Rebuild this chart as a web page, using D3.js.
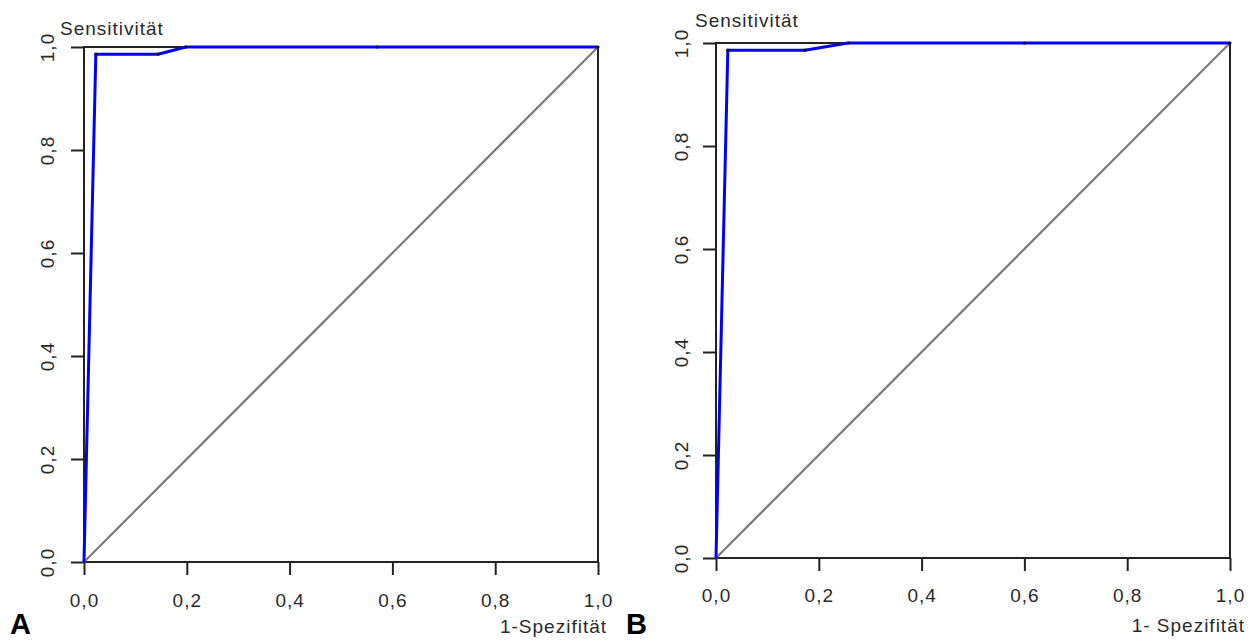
<!DOCTYPE html>
<html>
<head>
  <meta charset="utf-8">
  <title>roc-curves</title>
  <style>
    * { margin: 0; padding: 0; }
    body { background: #fff; }
    svg text {
      font-family: "Liberation Sans", Arial, sans-serif;
      fill: #2a2a2a;
    }
    .tick-label, .axis-title { font-size: 19px; letter-spacing: 1px; }
    .panel-label { font-size: 29px; font-weight: bold; fill: #000; }
  </style>
</head>
<body>
  <svg id="svg"></svg>
  <script src="https://cdnjs.cloudflare.com/ajax/libs/d3/7.8.5/d3.min.js"></script>
  <script>
    // ROC points (1-specificity, sensitivity)
    const fprA = [0, 0.023, 0.144, 0.198, 0.57, 1];
    const tprA = [0, 0.986, 0.986, 1, 1, 1];
    const fprB = [0, 0.023, 0.173, 0.257, 0.6, 1];
    const tprB = [0, 0.986, 0.986, 1, 1, 1];
    const tickValues = [0, 0.2, 0.4, 0.6, 0.8, 1];
    const xTitles = ['1-Spezifität', '1- Spezifität'];
    const yTitle = 'Sensitivität';
    const panelNames = ['A', 'B'];

    const width = 1255, height = 641;
    const svg = d3.select('#svg').attr('width', width).attr('height', height);

    const panels = [
      { x: fprA, y: tprA, left: 84, right: 598, top: 47, bottom: 562,
        yLabelX: 47, xLabelY: 607, titleX: 60, titleY: 35, xTitleEnd: 607, xTitleY: 633, nameX: 10 },
      { x: fprB, y: tprB, left: 716, right: 1230, top: 43, bottom: 558,
        yLabelX: 681, xLabelY: 602, titleX: 695, titleY: 27, xTitleEnd: 1245, xTitleY: 632, nameX: 626 }
    ];

    const fmt = v => d3.format('.1f')(v).replace('.', ',');

    panels.forEach((p, i) => {
      const xScale = d3.scaleLinear().domain([0, 1]).range([p.left, p.right]);
      const yScale = d3.scaleLinear().domain([0, 1]).range([p.bottom, p.top]);
      const g = svg.append('g');

      // box
      g.append('rect')
        .attr('x', xScale(0)).attr('y', yScale(1))
        .attr('width', xScale(1) - xScale(0)).attr('height', yScale(0) - yScale(1))
        .attr('fill', 'none').attr('stroke', '#222').attr('stroke-width', 2);

      const xAxis = d3.axisBottom(xScale).tickValues(tickValues).tickSize(13).tickSizeOuter(0).tickFormat(fmt);
      const yAxis = d3.axisLeft(yScale).tickValues(tickValues).tickSize(13).tickSizeOuter(0).tickFormat(fmt);

      const gx = g.append('g').attr('transform', `translate(0, ${p.bottom})`).call(xAxis);
      const gy = g.append('g').attr('transform', `translate(${p.left}, 0)`).call(yAxis);
      [gx, gy].forEach(a => {
        a.select('.domain').remove();
        a.selectAll('.tick line').attr('stroke', '#222').attr('stroke-width', 2);
      });
      gx.selectAll('.tick text')
        .attr('class', 'tick-label')
        .attr('y', p.xLabelY - p.bottom).attr('dy', null)
        .attr('text-anchor', 'middle');
      gy.selectAll('.tick text')
        .attr('class', 'tick-label')
        .attr('x', null).attr('dy', null)
        .attr('text-anchor', 'middle')
        .attr('transform', `translate(${p.yLabelX - p.left}, 0) rotate(-90) translate(0, 7)`);

      // diagonal
      g.append('line')
        .attr('x1', xScale(0)).attr('y1', yScale(0))
        .attr('x2', xScale(1)).attr('y2', yScale(1))
        .attr('stroke', '#7a7a7a').attr('stroke-width', 2.2);

      // ROC curve
      const pts = p.x.map((v, k) => [v, p.y[k]]);
      const line = d3.line().x(d => xScale(d[0])).y(d => yScale(d[1]));
      g.append('path').datum(pts)
        .attr('d', line)
        .attr('fill', 'none').attr('stroke', '#0000ff').attr('stroke-width', 3)
        .attr('stroke-linejoin', 'round');
      g.selectAll('circle.pt').data(pts.slice(1)).enter().append('circle')
        .attr('class', 'pt')
        .attr('cx', d => xScale(d[0])).attr('cy', d => yScale(d[1]))
        .attr('r', 1.6).attr('fill', '#111');

      // titles
      g.append('text').attr('class', 'axis-title')
        .attr('x', p.titleX).attr('y', p.titleY).text(yTitle);
      g.append('text').attr('class', 'axis-title')
        .attr('x', p.xTitleEnd).attr('y', p.xTitleY).attr('text-anchor', 'end').text(xTitles[i]);
      g.append('text').attr('class', 'panel-label')
        .attr('x', p.nameX).attr('y', 634).text(panelNames[i]);
    });
  </script>
</body>
</html>
